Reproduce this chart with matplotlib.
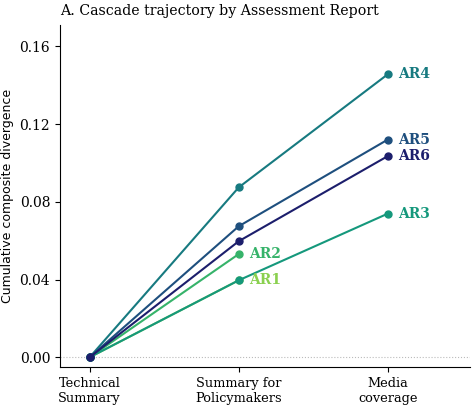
import matplotlib
matplotlib.use("Agg")
import matplotlib.pyplot as plt
import numpy as np

plt.rcParams["font.family"] = "serif"
plt.rcParams["font.serif"] = ["DejaVu Serif"]

stages = ["Technical\nSummary", "Summary for\nPolicymakers", "Media\ncoverage"]
reports = ["AR1", "AR2", "AR3", "AR4", "AR5", "AR6"]
values = {
    "AR1": [0.0, 0.0396],
    "AR2": [0.0, 0.0531],
    "AR3": [0.0, 0.0396, 0.0739],
    "AR4": [0.0, 0.0874, 0.1456],
    "AR5": [0.0, 0.0674, 0.1120],
    "AR6": [0.0, 0.0597, 0.1035],
}
colors = {
    "AR1": "#8ad04f",
    "AR2": "#36b36a",
    "AR3": "#15987c",
    "AR4": "#177a80",
    "AR5": "#1e4f7e",
    "AR6": "#1c1e6c",
}
yticks = [0.00, 0.04, 0.08, 0.12, 0.16]

fig = plt.figure(figsize=(4.75, 4.08), dpi=100)
ax = fig.add_axes([0.126, 0.1005, 0.863, 0.8385])

ax.axhline(0, color="#bbbbbb", lw=0.8, ls=":", zorder=0)
for r in reports:
    v = values[r]
    x = np.arange(len(v))
    ax.plot(x, v, color=colors[r], lw=1.5, marker="o", ms=5, zorder=2)
    ax.text(x[-1] + 0.07, v[-1], r, color=colors[r], fontsize=10,
            fontweight="bold", va="center", ha="left")

ax.set_xlim(-0.2, 2.55)
ax.set_ylim(-0.005, 0.171)
ax.set_xticks(range(len(stages)))
ax.set_xticklabels(stages, fontsize=9.3)
ax.set_yticks(yticks)
ax.set_yticklabels([f"{t:.2f}" for t in yticks], fontsize=10)
ax.set_ylabel("Cumulative composite divergence", family="DejaVu Sans", fontsize=9)
ax.set_title("A. Cascade trajectory by Assessment Report", loc="left",
             fontsize=10.2, pad=7)
for s in ["top", "right"]:
    ax.spines[s].set_visible(False)

fig.savefig("out.png", dpi=100)
